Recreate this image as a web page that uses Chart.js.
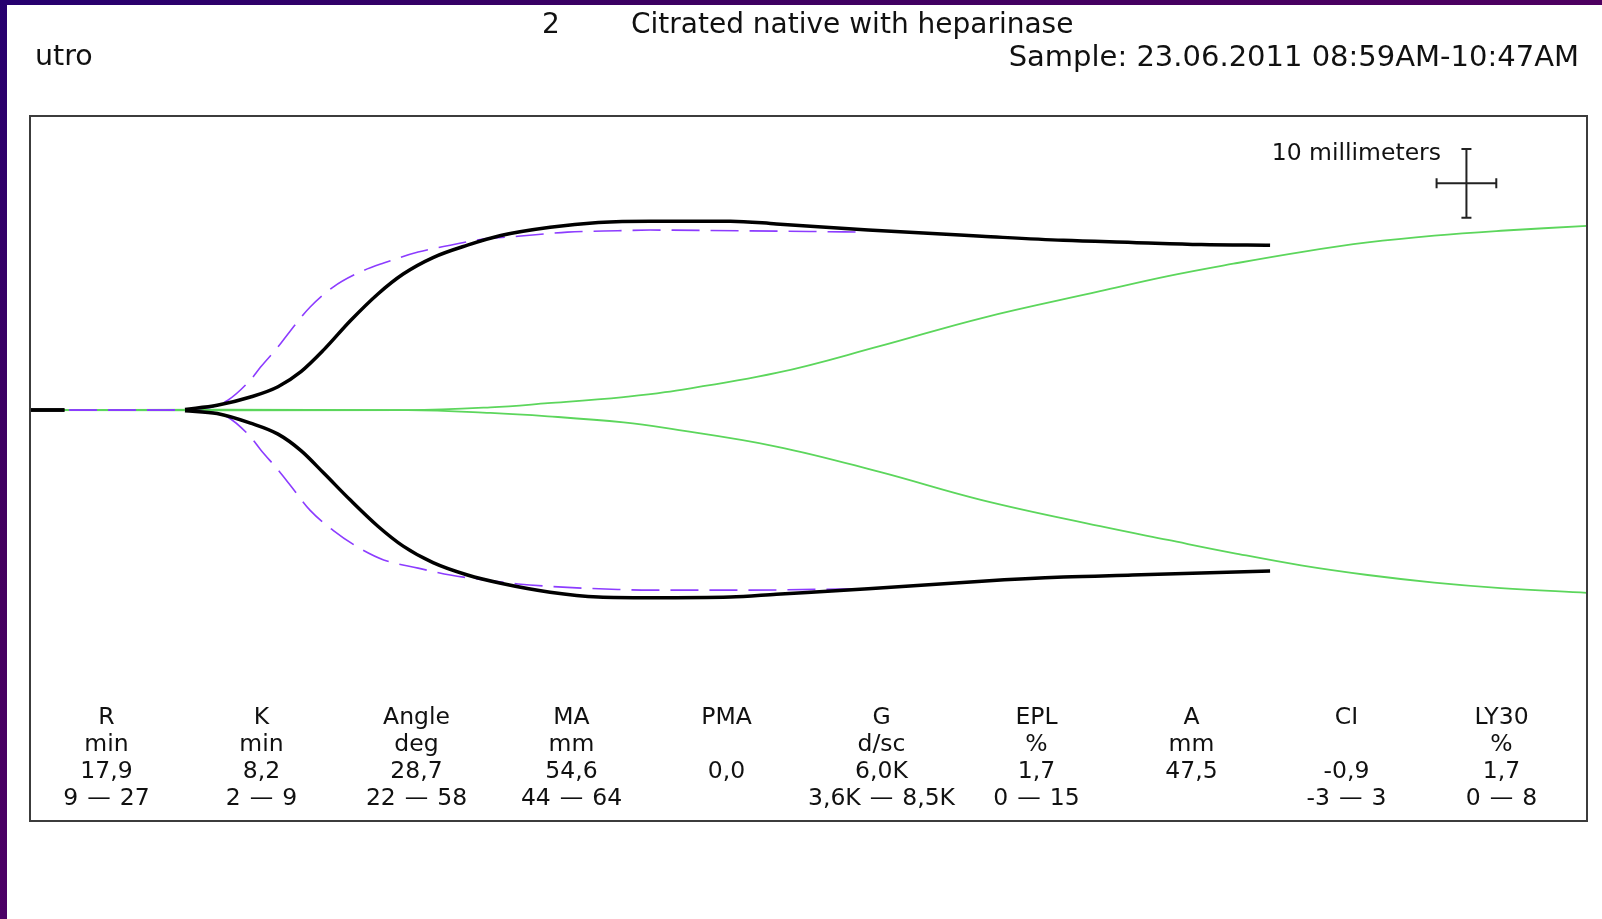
<!DOCTYPE html>
<html lang="en">
<head>
  <meta charset="UTF-8">
  <title>TEG trace</title>
  <script src="https://cdn.jsdelivr.net/npm/chart.js"></script>
  <style>
    html, body { margin: 0; padding: 0; background: #fff; }
    body { width: 1602px; height: 919px; position: relative; overflow: hidden;
           font-family: "DejaVu Sans", Verdana, sans-serif; color: #111; }
    #teg { position: absolute; left: 0; top: 0; }
    #barTop { position: absolute; left: 0; top: 0; width: 1602px; height: 5px;
              background: linear-gradient(to right, #26006f, #3c0062 40%, #4e0060); }
    #barLeft { position: absolute; left: 0; top: 0; width: 7px; height: 919px;
               background: linear-gradient(to bottom, #26006f, #44005f 60%, #4c0066); }
    .hdr { position: absolute; font-size: 28.5px; line-height: 28.5px; white-space: nowrap; }
    #scaleLabel { position: absolute; right: 161px; top: 141px; font-size: 23.5px;
                  line-height: 23.5px; white-space: nowrap; }
    #params { position: absolute; left: 29px; top: 703px; display: flex; }
    #params .col { width: 155px; text-align: center; font-size: 23.5px; word-spacing: 1.5px; }
    #params .col div { height: 27px; line-height: 27px; white-space: nowrap; }
  </style>
</head>
<body>
  <canvas id="teg" width="1602" height="919"></canvas>
  <div id="barTop"></div>
  <div id="barLeft"></div>

  <div class="hdr" style="left:542px; top:10px; font-size:28px;">2</div>
  <div class="hdr" style="left:631px; top:10px; font-size:28px;">Citrated native with heparinase</div>
  <div class="hdr" style="left:35px; top:42px;">utro</div>
  <div class="hdr" style="right:23px; top:42px; font-size:29px;">Sample: 23.06.2011 08:59AM-10:47AM</div>
  <div id="scaleLabel">10 millimeters</div>
  <div id="params"></div>

  <script>
    // время (мин) и амплитуда (мм) — основная кривая (чёрная)
    const blackTime = [0, 3, 3.1, 13.5, 16.3, 19.2, 21.6, 23.6, 25.6, 27.9, 30.3, 32.5, 35.1, 38.1, 41.0,
                       45.3, 49.5, 54.0, 61.0, 65.0, 73.0, 82.9, 90.0, 96.0, 102.0, 108.0];
    const blackUp   = [0, 0, null, 0.1, 0.7, 1.9, 3.4, 5.6, 8.8, 13.0, 16.9, 19.8, 22.2, 24.0, 25.4,
                       26.6, 27.3, 27.5, 27.5, 27.1, 26.2, 25.3, 24.7, 24.4, 24.1, 24.0];
    const blackLow  = [0, 0, null, -0.1, -0.5, -1.9, -3.5, -5.9, -9.2, -13.1, -16.9, -19.8, -22.2, -24.0, -25.2,
                       -26.5, -27.2, -27.3, -27.2, -26.8, -26.0, -24.9, -24.3, -24.0, -23.7, -23.4];

    // эталонная кривая (фиолетовый пунктир)
    const refTime = [0, 10.5, 15.7, 17.2, 19.2, 20.1, 21.6, 22.7, 24.4, 26.4, 28.5, 30.8, 33.8,
                     36.6, 39.5, 42.5, 46.8, 51.2, 54.0, 62.0, 72.6];
    const refUp   = [0, 0, 0.4, 1.4, 4.4, 6.3, 9.2, 11.6, 15.0, 17.9, 19.9, 21.4, 23.0,
                     24.0, 24.9, 25.3, 25.9, 26.1, 26.2, 26.1, 25.9];
    const refLow  = [0, 0, -0.3, -1.0, -3.9, -5.8, -8.7, -11.0, -14.6, -17.5, -19.9, -21.8, -23.0,
                     -24.0, -24.7, -25.3, -25.8, -26.1, -26.2, -26.2, -26.0];

    // второй канал (зелёный)
    const chTime = [0, 32.9, 40.1, 45.1, 51.7, 55.3, 65.0, 74.0, 82.9, 93.2, 99.1, 104.8,
                    110.7, 116.5, 122.3, 128.1, 135.6];
    const chUp   = [0, 0, 0.4, 1.0, 1.9, 2.6, 5.4, 9.3, 13.4, 17.3, 19.5, 21.3,
                    23.0, 24.4, 25.4, 26.1, 26.8];
    const chLow  = [0, 0, -0.4, -0.9, -1.8, -2.6, -5.3, -9.0, -13.1, -16.9, -18.9, -20.8,
                    -22.6, -24.0, -25.1, -25.9, -26.6];

    // таблица параметров
    const paramNames  = ['R', 'K', 'Angle', 'MA', 'PMA', 'G', 'EPL', 'A', 'CI', 'LY30'];
    const paramUnits  = ['min', 'min', 'deg', 'mm', '', 'd/sc', '%', 'mm', '', '%'];
    const paramValues = ['17,9', '8,2', '28,7', '54,6', '0,0', '6,0K', '1,7', '47,5', '-0,9', '1,7'];
    const paramRanges = ['9 — 27', '2 — 9', '22 — 58', '44 — 64', '', '3,6K — 8,5K', '0 — 15', '', '-3 — 3', '0 — 8'];

    // масштабный крест "10 millimeters"
    const crossT = 125.1, crossMm = 33.0, crossSize = 10, crossHalfT = 2.6;

    const paramsEl = document.getElementById('params');
    paramNames.forEach((n, i) => {
      const col = document.createElement('div');
      col.className = 'col';
      [n, paramUnits[i], paramValues[i], paramRanges[i]].forEach(txt => {
        const d = document.createElement('div');
        d.textContent = txt;
        col.appendChild(d);
      });
      paramsEl.appendChild(col);
    });

    const pts = (t, v) => t.map((x, i) => ({ x: x, y: v[i] }));

    const frame = {
      id: 'frame',
      afterDraw(chart) {
        const { ctx, chartArea: a } = chart;
        ctx.save();
        ctx.strokeStyle = '#3c3c3c';
        ctx.lineWidth = 2;
        ctx.strokeRect(a.left, a.top, a.right - a.left, a.bottom - a.top);
        ctx.restore();
      }
    };

    const cross = {
      id: 'cross',
      afterDatasetsDraw(chart) {
        const { ctx } = chart;
        const xs = chart.scales.x, ys = chart.scales.y;
        const cx = xs.getPixelForValue(crossT), cy = ys.getPixelForValue(crossMm);
        const y1 = ys.getPixelForValue(crossMm + crossSize / 2);
        const y2 = ys.getPixelForValue(crossMm - crossSize / 2);
        const x1 = xs.getPixelForValue(crossT - crossHalfT);
        const x2 = xs.getPixelForValue(crossT + crossHalfT);
        const cap = 5;
        ctx.save();
        ctx.strokeStyle = '#222';
        ctx.lineWidth = 2;
        ctx.beginPath();
        ctx.moveTo(cx, y1); ctx.lineTo(cx, y2);
        ctx.moveTo(cx - cap, y1); ctx.lineTo(cx + cap, y1);
        ctx.moveTo(cx - cap, y2); ctx.lineTo(cx + cap, y2);
        ctx.moveTo(x1, cy); ctx.lineTo(x2, cy);
        ctx.moveTo(x1, cy - cap); ctx.lineTo(x1, cy + cap);
        ctx.moveTo(x2, cy - cap); ctx.lineTo(x2, cy + cap);
        ctx.stroke();
        ctx.restore();
      }
    };

    const black = { borderColor: '#000', borderWidth: 3.5 };
    const purple = { borderColor: '#8c3cff', borderWidth: 1.6, borderDash: [28, 11] };
    // зелёный — без monotone, чтобы кривая шла плавнее
    const green = { borderColor: '#5cd65c', borderWidth: 1.8, cubicInterpolationMode: 'default', tension: 0.4 };

    new Chart(document.getElementById('teg'), {
      type: 'line',
      data: {
        datasets: [
          { data: pts(blackTime, blackUp), ...black },
          { data: pts(blackTime, blackLow), ...black },
          { data: pts(refTime, refUp), ...purple },
          { data: pts(refTime, refLow), ...purple },
          { data: pts(chTime, chUp), ...green },
          { data: pts(chTime, chLow), ...green }
        ]
      },
      options: {
        responsive: false,
        animation: false,
        events: [],
        layout: { padding: { left: 30, top: 116, right: 15, bottom: 98 } },
        elements: {
          point: { radius: 0 },
          line: { cubicInterpolationMode: 'monotone', fill: false }
        },
        scales: {
          x: { type: 'linear', min: 0, max: 135.6, display: false },
          y: { type: 'linear', min: -59.8, max: 42.8, display: false }
        },
        plugins: {
          legend: { display: false },
          tooltip: { enabled: false }
        }
      },
      plugins: [frame, cross]
    });
  </script>
</body>
</html>
